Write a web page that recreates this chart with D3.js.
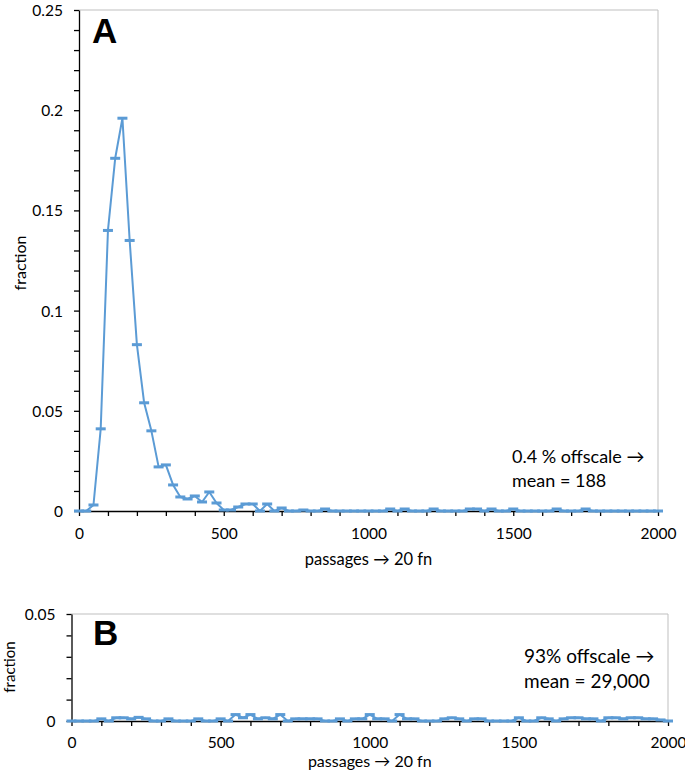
<!DOCTYPE html>
<html><head><meta charset="utf-8">
<script src="https://cdn.jsdelivr.net/npm/d3@7/dist/d3.min.js"></script>
<style>
body{margin:0;background:#fff;}
text{font-family:Lato,"Open Sans",sans-serif;fill:#000;}
</style></head>
<body><svg id="c" width="685" height="771"></svg>
<script>
// ---- data ----
const bins = [0,25,50,75,100,125,150,175,200,225,250,275,300,325,350,375,400,425,450,475,
  500,525,550,575,600,625,650,675,700,725,750,775,800,825,850,875,900,925,950,975,
  1000,1025,1050,1075,1100,1125,1150,1175,1200,1225,1250,1275,1300,1325,1350,1375,1400,1425,1450,1475,
  1500,1525,1550,1575,1600,1625,1650,1675,1700,1725,1750,1775,1800,1825,1850,1875,1900,1925,1950,1975,2000];
const valuesA = [0,0,0.003,0.041,0.140,0.176,0.196,0.135,0.083,0.054,0.040,0.022,0.023,0.013,0.007,0.006,0.0075,0.0045,0.0095,0.004,
  0.0005,0.0005,0.002,0.0035,0.0035,0,0.0035,0,0.0015,0,0,0.0005,0,0,0.001,0,0,0,0,0,
  0,0,0,0.001,0,0.001,0,0,0,0.001,0,0,0,0,0.001,0.001,0,0.001,0,0,
  0.001,0,0,0,0,0,0.001,0,0,0,0.001,0,0,0,0,0,0,0,0,0,0];
const valuesB = [0,0,0,0,0.001,0,0.0015,0.0015,0.001,0.0017,0.001,0,0,0.001,0,0,0,0.001,0,0,
  0.001,0,0.003,0.0015,0.003,0.001,0.0015,0.001,0.003,0,0.001,0.001,0.001,0.001,0,0,0.001,0,0.001,0.001,
  0.003,0.001,0.001,0,0.003,0.001,0.001,0,0,0,0.001,0.0015,0.001,0,0.001,0.001,0,0,0,0,
  0.0015,0,0,0.0015,0.001,0,0.001,0.0015,0.0015,0.001,0.001,0,0.0015,0.0015,0.001,0.0015,0.0015,0.001,0.001,0.0005,0];
const xTicks = [0,100,200,300,400,500,600,700,800,900,1000,1100,1200,1300,1400,1500,1600,1700,1800,1900,2000];
const xLabels = [0,500,1000,1500,2000];
const yTicksA = d3.range(0, 26).map(i => i / 100);
const yLabelsA = [0, 0.05, 0.1, 0.15, 0.2, 0.25];
const yTicksB = [0, 0.01, 0.02, 0.03, 0.04, 0.05];
const yLabelsB = [0, 0.05];
const xTitle = "passages \u2192 20 fn";
const yTitle = "fraction";

const svg = d3.select("#c");
const blue = "#5B9BD5";

function panel(cfg){
  const g = svg.append("g");
  const x = d3.scaleLinear().domain([0,2000]).range([cfg.x0, cfg.x1]);
  const y = d3.scaleLinear().domain([0,cfg.ymax]).range([cfg.y0, cfg.y1]);
  g.append("path").attr("d", `M${cfg.x0},${cfg.y1}H${cfg.x1}V${cfg.y0}`)
    .attr("fill","none").attr("stroke","#bfbfbf").attr("stroke-width",1);
  const xa = g.append("g").attr("transform",`translate(0,${cfg.y0})`)
    .call(d3.axisBottom(x).tickValues(xTicks).tickSize(5).tickSizeOuter(0)
      .tickFormat(d => xLabels.includes(d) ? d3.format("d")(d) : ""));
  xa.select(".domain").attr("stroke","#000").attr("stroke-width",1.3);
  xa.selectAll(".tick line").attr("stroke","#000").attr("stroke-width",1.3);
  xa.selectAll(".tick text").attr("y", cfg.xlabDy).attr("dy",0)
    .style("font-size","15.5px").style("font-family","Lato,sans-serif").attr("fill","#000");
  const ya = g.append("g").attr("transform",`translate(${cfg.x0},0)`)
    .call(d3.axisLeft(y).tickValues(cfg.yTicks).tickSize(5).tickSizeOuter(0)
      .tickFormat(d => cfg.yLabels.some(v => Math.abs(v-d)<1e-9) ? d3.format("~g")(d) : ""));
  ya.select(".domain").attr("stroke","#000").attr("stroke-width",1.3);
  ya.selectAll(".tick line").attr("stroke","#000").attr("stroke-width",1.3);
  ya.selectAll(".tick text").attr("x", -16).attr("dy","0.35em")
    .style("font-size","15.5px").style("font-family","Lato,sans-serif").attr("fill","#000");
  const pts = bins.map((b,i)=>[b, cfg.values[i]]);
  g.append("path").datum(pts)
    .attr("d", d3.line().x(d=>x(d[0])).y(d=>y(d[1])))
    .attr("fill","none").attr("stroke",blue).attr("stroke-width",2).attr("stroke-linejoin","round");
  g.selectAll("rect.m").data(pts).enter().append("rect").attr("class","m")
    .attr("x", d=>x(d[0])-5).attr("y", d=>y(d[1])-1.5)
    .attr("width",10).attr("height",3).attr("fill",blue);
  g.append("text").attr("x",(cfg.x0+cfg.x1)/2).attr("y",cfg.xTitleY)
    .attr("text-anchor","middle").style("font-size",cfg.xTitleSize).text(xTitle);
  g.append("text").attr("transform",`translate(${cfg.yTitleX},${cfg.yTitleY}) rotate(-90)`)
    .attr("text-anchor","middle").attr("dy","0.35em").style("font-size",cfg.yTitleSize).text(yTitle);
  g.append("text").attr("x",cfg.letterX).attr("y",cfg.letterY)
    .style("font-family","Liberation Sans,Arial,sans-serif").style("font-weight","bold")
    .style("font-size","35px").text(cfg.letter);
  cfg.note.forEach((t,i)=>{
    g.append("text").attr("x",cfg.noteX).attr("y",cfg.noteY + i*cfg.noteDy)
      .style("font-size",cfg.noteSize).text(t);
  });
}

panel({x0:79,x1:658,y0:511,y1:10,ymax:0.25,values:valuesA,yTicks:yTicksA,yLabels:yLabelsA,
  xlabDy:27.5, xTitleY:565, xTitleSize:"16.5px", yTitleX:20, yTitleY:263, yTitleSize:"16px", letter:"A", letterX:92, letterY:43,
  note:["0.4 % offscale \u2192","mean = 188"], noteX:512, noteY:463, noteDy:24, noteSize:"18px"});
panel({x0:71.5,x1:668,y0:721,y1:614,ymax:0.05,values:valuesB,yTicks:yTicksB,yLabels:yLabelsB,
  xlabDy:26.5, xTitleY:767, xTitleSize:"16px", yTitleX:10, yTitleY:667, yTitleSize:"15px", letter:"B", letterX:93, letterY:645,
  note:["93% offscale \u2192","mean = 29,000"], noteX:524, noteY:663, noteDy:25, noteSize:"19px"});
</script></body></html>
